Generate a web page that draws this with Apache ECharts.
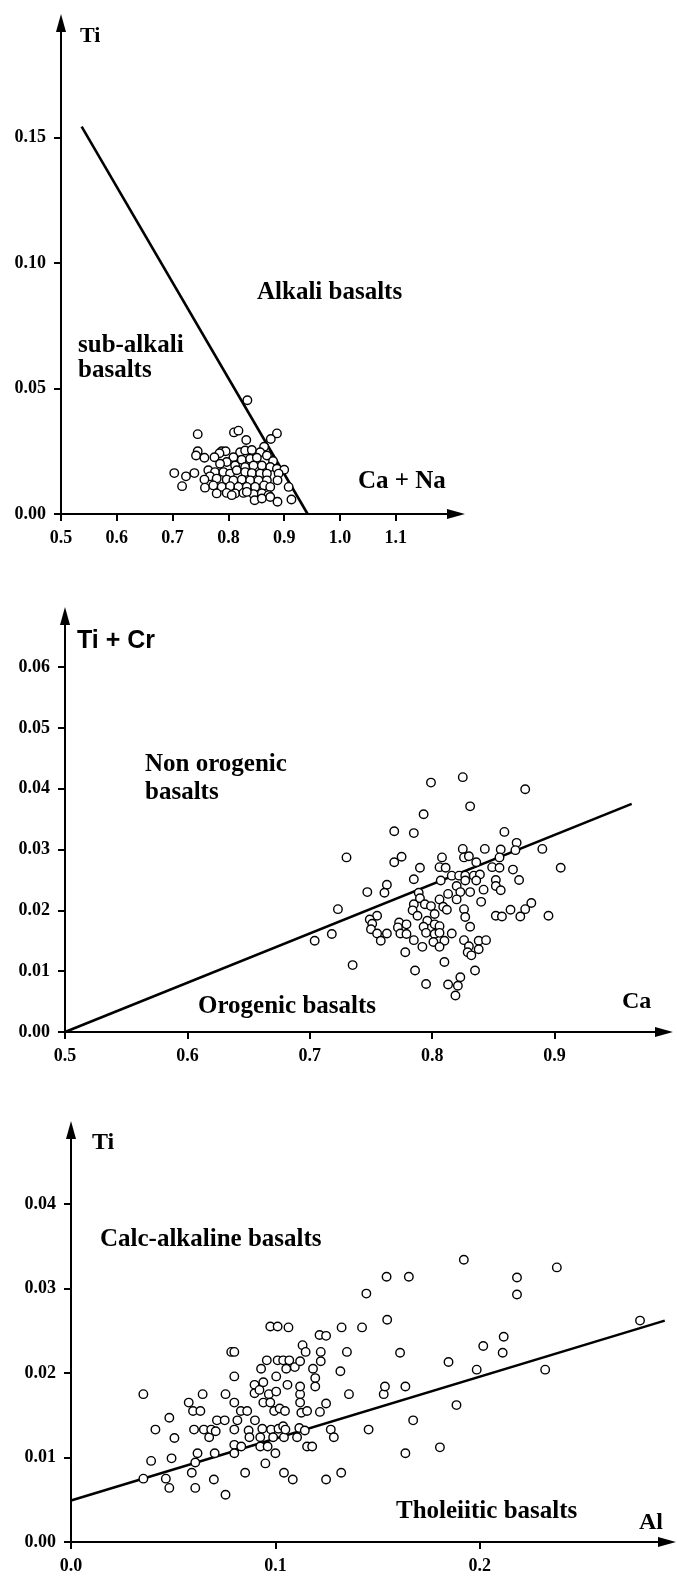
<!DOCTYPE html>
<html>
<head>
<meta charset="utf-8">
<script src="https://cdn.jsdelivr.net/npm/echarts@6/dist/echarts.min.js"></script>
<style>
html,body{margin:0;padding:0;background:#fff;}
#chart{width:677px;height:1577px;}
</style>
</head>
<body>
<div id="chart"></div>
<script>
// ---------- Panel 1 : Ti vs Ca + Na ----------
const p1CaNa = [0.834,0.745,0.810,0.818,0.887,0.832,0.876,0.864,0.745,0.742,0.757,0.788,0.795,0.784,0.775,
  0.821,0.830,0.842,0.857,0.809,0.824,0.839,0.851,0.869,0.880,0.797,0.785,0.812,0.830,0.845,0.860,0.875,0.887,0.900,
  0.703,0.724,0.739,0.764,0.776,0.767,0.757,0.791,0.803,0.815,0.830,0.842,0.857,0.869,0.890,
  0.779,0.797,0.809,0.824,0.839,0.854,0.869,0.888,0.717,
  0.758,0.773,0.788,0.803,0.818,0.833,0.848,0.864,0.875,
  0.779,0.797,0.812,0.827,0.845,0.860,0.872,0.806,0.908,0.847,0.860,0.875,0.888,0.913,0.833];
const p1Ti = [0.0453,0.0318,0.0325,0.0332,0.0321,0.0295,0.0299,0.0268,0.0250,0.0233,0.0224,0.0250,0.0250,0.0242,0.0226,
  0.0246,0.0253,0.0255,0.0246,0.0226,0.0216,0.0220,0.0224,0.0233,0.0211,0.0207,0.0200,0.0193,0.0187,0.0193,0.0193,0.0187,0.0180,0.0176,
  0.0163,0.0150,0.0163,0.0174,0.0167,0.0150,0.0137,0.0167,0.0161,0.0174,0.0167,0.0163,0.0161,0.0161,0.0161,
  0.0141,0.0137,0.0134,0.0137,0.0134,0.0134,0.0134,0.0134,0.0111,
  0.0105,0.0114,0.0108,0.0111,0.0108,0.0108,0.0108,0.0114,0.0108,
  0.0082,0.0084,0.0082,0.0084,0.0079,0.0082,0.0075,0.0075,0.0108,0.0055,0.0062,0.0068,0.0049,0.0058,0.0088];
const p1LineX = [0.537, 0.942];
const p1LineY = [0.1543, 0.0];
const p1XTicks = [0.5,0.6,0.7,0.8,0.9,1.0,1.1];
const p1YTicks = [0.00,0.05,0.10,0.15];

// ---------- Panel 2 : Ti + Cr vs Ca ----------
const p2Ca = [0.825,0.799,0.876,0.831,0.793,0.769,0.785,0.859,0.869,0.825,0.843,0.856,0.890,0.868,
  0.730,0.775,0.769,0.808,0.826,0.830,0.836,0.855,0.905,0.790,0.806,0.811,0.849,0.855,0.866,
  0.816,0.822,0.827,0.834,0.839,0.785,0.807,0.820,0.827,0.836,0.852,0.871,
  0.763,0.761,0.747,0.789,0.813,0.823,0.831,0.842,0.852,0.856,0.790,0.806,0.820,0.840,0.881,
  0.723,0.785,0.794,0.799,0.809,0.812,0.784,0.826,0.864,0.876,
  0.755,0.749,0.788,0.802,0.827,0.852,0.857,0.872,0.895,
  0.751,0.773,0.779,0.796,0.802,0.750,0.772,0.793,0.806,0.831,
  0.755,0.763,0.774,0.779,0.795,0.802,0.806,0.816,0.718,
  0.704,0.758,0.785,0.801,0.810,0.826,0.838,0.844,
  0.792,0.806,0.830,0.838,0.778,0.829,0.832,0.810,0.735,0.786,0.835,0.795,0.813,0.823,0.821,0.819];
const p2TiCr = [0.0419,0.0410,0.0399,0.0371,0.0358,0.0330,0.0327,0.0329,0.0311,0.0301,0.0301,0.0300,0.0301,0.0299,
  0.0287,0.0288,0.0279,0.0287,0.0287,0.0289,0.0279,0.0287,0.0270,0.0270,0.0271,0.0270,0.0271,0.0270,0.0267,
  0.0257,0.0257,0.0257,0.0257,0.0259,0.0251,0.0249,0.0240,0.0249,0.0249,0.0250,0.0250,
  0.0242,0.0229,0.0230,0.0229,0.0227,0.0230,0.0230,0.0234,0.0240,0.0233,0.0220,0.0218,0.0218,0.0214,0.0212,
  0.0202,0.0210,0.0210,0.0207,0.0206,0.0201,0.0200,0.0202,0.0201,0.0202,
  0.0191,0.0185,0.0191,0.0194,0.0189,0.0191,0.0190,0.0190,0.0191,
  0.0178,0.0180,0.0177,0.0183,0.0177,0.0169,0.0172,0.0173,0.0174,0.0173,
  0.0162,0.0162,0.0162,0.0161,0.0163,0.0161,0.0163,0.0162,0.0161,
  0.0150,0.0150,0.0151,0.0148,0.0150,0.0151,0.0150,0.0151,
  0.0140,0.0140,0.0141,0.0136,0.0131,0.0131,0.0126,0.0115,0.0110,0.0101,0.0101,0.0079,0.0078,0.0090,0.0076,0.0060];
const p2LineX = [0.5, 0.963];
const p2LineY = [0.0, 0.0375];
const p2XTicks = [0.5,0.6,0.7,0.8,0.9];
const p2YTicks = [0.00,0.01,0.02,0.03,0.04,0.05,0.06];

// ---------- Panel 3 : Ti vs Al ----------
const p3Al = [0.0354,0.0354,0.0392,0.0413,0.0464,0.0481,0.0481,0.0492,0.0506,0.0576,0.0597,0.0591,0.0602,0.0608,0.0608,
  0.0619,0.0633,0.0644,0.0650,0.0676,0.0686,0.0699,0.0703,0.0708,0.0714,0.0752,0.0756,0.0756,0.0784,0.0799,
  0.0799,0.0799,0.0799,0.0799,0.0799,0.0814,0.0831,0.0833,0.0852,0.0862,0.0869,0.0873,0.0898,0.0898,0.0900,
  0.0922,0.0926,0.0926,0.0930,0.0936,0.0941,0.0941,0.0951,0.0958,0.0962,0.0968,0.0975,0.0975,0.0979,0.0989,
  0.0994,0.1000,0.1004,0.1004,0.1011,0.1011,0.1015,0.1021,0.1038,0.1038,0.1042,0.1042,0.1047,0.1049,0.1053,
  0.1059,0.1064,0.1068,0.1085,0.1095,0.1106,0.1117,0.1121,0.1121,0.1121,0.1121,0.1127,0.1133,0.1144,0.1148,
  0.1155,0.1155,0.1180,0.1184,0.1195,0.1195,0.1216,0.1222,0.1222,0.1218,0.1248,0.1248,0.1248,0.1271,0.1286,
  0.1318,0.1322,0.1324,0.1350,0.1360,0.1424,0.1445,0.1456,0.1530,0.1536,0.1544,0.1547,0.1610,0.1636,0.1636,
  0.1653,0.1674,0.1805,0.1847,0.1886,0.1922,0.1985,0.2017,0.2112,0.2117,0.2182,0.2182,0.2320,0.2377,0.2784];
const p3Ti = [0.0175,0.0075,0.0096,0.0133,0.0075,0.0064,0.0147,0.0099,0.0123,0.0165,0.0155,0.0082,0.0133,0.0064,0.0094,
  0.0105,0.0155,0.0175,0.0133,0.0124,0.0133,0.0074,0.0105,0.0131,0.0144,0.0144,0.0175,0.0056,0.0225,0.0225,
  0.0196,0.0165,0.0133,0.0115,0.0105,0.0144,0.0155,0.0113,0.0082,0.0155,0.0132,0.0124,0.0186,0.0176,0.0144,
  0.0180,0.0124,0.0113,0.0205,0.0134,0.0189,0.0165,0.0093,0.0215,0.0113,0.0175,0.0255,0.0165,0.0133,0.0124,
  0.0155,0.0105,0.0196,0.0178,0.0255,0.0215,0.0134,0.0158,0.0215,0.0137,0.0124,0.0082,0.0155,0.0133,0.0205,
  0.0186,0.0254,0.0215,0.0074,0.0207,0.0124,0.0135,0.0175,0.0184,0.0214,0.0165,0.0153,0.0233,0.0132,0.0225,
  0.0155,0.0113,0.0113,0.0205,0.0194,0.0184,0.0245,0.0214,0.0225,0.0154,0.0244,0.0164,0.0074,0.0133,0.0124,
  0.0202,0.0082,0.0254,0.0225,0.0175,0.0254,0.0294,0.0133,0.0175,0.0184,0.0314,0.0263,0.0224,0.0184,0.0105,
  0.0314,0.0144,0.0112,0.0213,0.0162,0.0334,0.0204,0.0232,0.0224,0.0243,0.0313,0.0293,0.0204,0.0325,0.0262];
const p3LineX = [0.0, 0.2905];
const p3LineY = [0.0049, 0.0262];
const p3XTicks = [0.0,0.1,0.2];
const p3YTicks = [0.00,0.01,0.02,0.03,0.04];

// ---------- helpers ----------
const zip = (a, b) => a.map((v, i) => [v, b[i]]);
const SERIF = '"Liberation Serif","Times New Roman",serif';
const SANS = '"Liberation Sans",Arial,sans-serif';

function axis(gridIndex, min, max, ticks, dec) {
  return {
    type: 'value', gridIndex, min, max,
    splitLine: {show: false},
    axisLine: {show: true, onZero: false, lineStyle: {color: '#000', width: 2},
      symbol: ['none', 'triangle'], symbolSize: [10, 18]},
    axisTick: {show: true, inside: false, length: 7, lineStyle: {color: '#000', width: 2}, customValues: ticks},
    axisLabel: {show: true, customValues: ticks, margin: 15,
      formatter: v => Number(v).toFixed(dec),
      color: '#000', fontFamily: SERIF, fontWeight: 'bold', fontSize: 18}
  };
}
function scatter(i, xs, ys) {
  return {type: 'scatter', xAxisIndex: i, yAxisIndex: i, data: zip(xs, ys), symbol: 'circle', symbolSize: 8.5,
    itemStyle: {color: '#fff', borderColor: '#000', borderWidth: 1.4, opacity: 1}, z: 5, silent: true};
}
function boundary(i, xs, ys) {
  return {type: 'line', xAxisIndex: i, yAxisIndex: i, data: zip(xs, ys), symbol: 'none', clip: false,
    lineStyle: {color: '#000', width: 2.6}, z: 3, silent: true};
}
function txt(x, y, text, size, fam) {
  return {type: 'text', x, y, z: 10, style: {text, fill: '#000', fontFamily: fam || SERIF, fontWeight: 'bold',
    fontSize: size, verticalAlign: 'middle', align: 'left'}};
}

const chart = echarts.init(document.getElementById('chart'), null, {renderer: 'canvas'});
chart.setOption({
  backgroundColor: '#fff',
  animation: false,
  grid: [
    {left: 61, top: 23, width: 395, height: 491},
    {left: 65, top: 616, width: 599, height: 416},
    {left: 71, top: 1130, width: 596, height: 412}
  ],
  xAxis: [
    axis(0, 0.5, 1.2079, p1XTicks, 1),
    axis(1, 0.5, 0.9894, p2XTicks, 1),
    axis(2, 0, 0.2916, p3XTicks, 1)
  ],
  yAxis: [
    axis(0, 0, 0.1956, p1YTicks, 2),
    axis(1, 0, 0.06839, p2YTicks, 2),
    axis(2, 0, 0.04876, p3YTicks, 2)
  ],
  series: [
    boundary(0, p1LineX, p1LineY), scatter(0, p1CaNa, p1Ti),
    boundary(1, p2LineX, p2LineY), scatter(1, p2Ca, p2TiCr),
    boundary(2, p3LineX, p3LineY), scatter(2, p3Al, p3Ti)
  ],
  graphic: [
    txt(80, 36, 'Ti', 22),
    txt(257, 293, 'Alkali basalts', 25),
    txt(78, 346, 'sub-alkali', 25),
    txt(78, 371, 'basalts', 25),
    txt(358, 482, 'Ca + Na', 25),
    txt(77, 641, 'Ti + Cr', 25, SANS),
    txt(145, 765, 'Non orogenic', 25),
    txt(145, 793, 'basalts', 25),
    txt(198, 1007, 'Orogenic basalts', 25),
    txt(622, 1002, 'Ca', 24),
    txt(92, 1143, 'Ti', 24),
    txt(100, 1240, 'Calc-alkaline basalts', 25),
    txt(396, 1512, 'Tholeiitic basalts', 25),
    txt(639, 1523, 'Al', 24)
  ]
});
</script>
</body>
</html>
